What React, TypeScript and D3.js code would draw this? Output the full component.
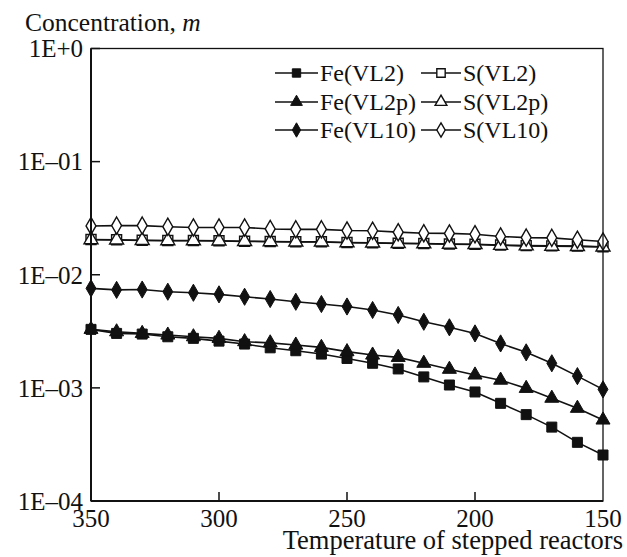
import React, { useEffect, useRef } from "react";
import * as d3 from "d3";

const temps = [350, 340, 330, 320, 310, 300, 290, 280, 270, 260, 250, 240, 230, 220, 210, 200, 190, 180, 170, 160, 150];

const feVL2 = [0.00329, 0.00303, 0.00299, 0.00283, 0.00274, 0.00259, 0.00244, 0.00226, 0.00213, 0.00199, 0.00182, 0.00165, 0.00147, 0.00125, 0.00106, 0.00092, 0.00073, 0.00058, 0.00045, 0.00033, 0.000255];
const feVL2p = [0.00329, 0.00313, 0.00303, 0.00293, 0.00283, 0.00274, 0.00256, 0.0025, 0.00239, 0.00228, 0.00209, 0.00195, 0.00186, 0.00165, 0.00146, 0.0013, 0.00117, 0.00099, 0.00081, 0.00066, 0.00052];
const feVL10 = [0.00758, 0.00735, 0.0074, 0.00708, 0.00693, 0.00671, 0.00639, 0.0061, 0.00577, 0.00551, 0.00524, 0.00488, 0.00441, 0.00384, 0.00343, 0.00303, 0.00247, 0.00206, 0.00165, 0.00127, 0.00097];
const sVL2 = [0.0205, 0.0204, 0.0202, 0.0201, 0.0201, 0.02, 0.0198, 0.0197, 0.0196, 0.0196, 0.0193, 0.0192, 0.019, 0.0189, 0.0187, 0.0186, 0.0183, 0.0181, 0.018, 0.0179, 0.0177];
const sVL2p = [0.0204, 0.0203, 0.0201, 0.02, 0.02, 0.0199, 0.0197, 0.0196, 0.0195, 0.0195, 0.0192, 0.0191, 0.0189, 0.0188, 0.0186, 0.0185, 0.0182, 0.018, 0.0179, 0.0178, 0.0176];
const sVL10 = [0.027, 0.0272, 0.0272, 0.0266, 0.0262, 0.0262, 0.0262, 0.0254, 0.0252, 0.0252, 0.0246, 0.0245, 0.0238, 0.0233, 0.0232, 0.0228, 0.0218, 0.0213, 0.0212, 0.0204, 0.0197];

const yTickValues = [1, 0.1, 0.01, 0.001, 0.0001];
const yTickLabels = ["1E+0", "1E\u201301", "1E\u201302", "1E\u201303", "1E\u201304"];
const xTickValues = [350, 300, 250, 200, 150];

const seriesNames = ["Fe(VL2)", "S(VL2)", "Fe(VL2p)", "S(VL2p)", "Fe(VL10)", "S(VL10)"];
const seriesData = [feVL2, sVL2, feVL2p, sVL2p, feVL10, sVL10];
const seriesShapes = ["square", "square", "triangle", "triangle", "diamond", "diamond"];
const seriesFilled = [true, false, true, false, true, false];

const FONT = "Liberation Serif, DejaVu Serif, serif";

export default function App() {
  const ref = useRef<SVGSVGElement | null>(null);

  useEffect(() => {
    const svg = d3.select(ref.current);
    svg.selectAll("*").remove();

    const left = 91, right = 603, top = 48.5, bottom = 501;
    const x = d3.scaleLinear().domain([350, 150]).range([left, right]);
    const y = d3.scaleLog().domain([1e-4, 1]).range([bottom, top]);

    const markerPath = (shape: string, size: number) => {
      const sym =
        shape === "square" ? d3.symbolSquare : shape === "triangle" ? d3.symbolTriangle : d3.symbolDiamond;
      return d3.symbol().type(sym).size(size)() as string;
    };
    const sizeFor = (shape: string) => (shape === "square" ? 100 : 85);

    const order = [1, 3, 5, 0, 2, 4];
    const line = d3
      .line<number>()
      .x((_, i) => x(temps[i]))
      .y((d) => y(d));

    order.forEach((si) => {
      const data = seriesData[si];
      const g = svg.append("g");
      g.append("path")
        .attr("d", line(data) as string)
        .attr("fill", "none")
        .attr("stroke", "#111")
        .attr("stroke-width", 1.6);
      g.selectAll("path.m")
        .data(data)
        .enter()
        .append("path")
        .attr("class", "m")
        .attr("d", markerPath(seriesShapes[si], sizeFor(seriesShapes[si])))
        .attr("transform", (d, i) => `translate(${x(temps[i])},${y(d)})`)
        .attr("fill", seriesFilled[si] ? "#111" : "#fff")
        .attr("stroke", "#111")
        .attr("stroke-width", seriesFilled[si] ? 1 : 1.4);
    });

    svg.append("rect")
      .attr("x", left)
      .attr("y", top)
      .attr("width", right - left)
      .attr("height", bottom - top)
      .attr("fill", "none")
      .attr("stroke", "#111")
      .attr("stroke-width", 1.3);
    svg.append("line").attr("x1", left).attr("x2", left).attr("y1", top).attr("y2", bottom)
      .attr("stroke", "#111").attr("stroke-width", 2);
    svg.append("line").attr("x1", left).attr("x2", right).attr("y1", bottom).attr("y2", bottom)
      .attr("stroke", "#111").attr("stroke-width", 2);

    yTickValues.forEach((v, i) => {
      svg.append("line")
        .attr("x1", left).attr("x2", left + 9)
        .attr("y1", y(v)).attr("y2", y(v))
        .attr("stroke", "#111").attr("stroke-width", 1.5);
      svg.append("text")
        .attr("x", 83)
        .attr("y", y(v))
        .attr("dy", "0.35em")
        .attr("text-anchor", "end")
        .style("font-family", FONT)
        .attr("font-size", 25)
        .attr("fill", "#111")
        .text(yTickLabels[i]);
    });

    xTickValues.forEach((v) => {
      if (v !== 350 && v !== 150) {
        svg.append("line")
          .attr("x1", x(v)).attr("x2", x(v))
          .attr("y1", bottom).attr("y2", bottom - 9)
          .attr("stroke", "#111").attr("stroke-width", 1.5);
      }
      svg.append("text")
        .attr("x", x(v))
        .attr("y", 527)
        .attr("text-anchor", "middle")
        .style("font-family", FONT)
        .attr("font-size", 25)
        .attr("fill", "#111")
        .text(String(v));
    });

    const yt = svg.append("text")
      .attr("x", 25)
      .attr("y", 31)
      .style("font-family", FONT)
      .attr("font-size", 25.5)
      .attr("fill", "#111");
    yt.append("tspan").text("Concentration, ");
    yt.append("tspan").attr("font-style", "italic").text("m");

    svg.append("text")
      .attr("x", 623)
      .attr("y", 549)
      .attr("text-anchor", "end")
      .style("font-family", FONT)
      .attr("font-size", 26.5)
      .attr("fill", "#111")
      .text("Temperature of stepped reactors");

    const rows = [73, 102, 130];
    const cols = [
      { l1: 275, l2: 318, tx: 320 },
      { l1: 421, l2: 461, tx: 463 },
    ];
    seriesNames.forEach((name, si) => {
      const r = Math.floor(si / 2);
      const c = si % 2;
      const cy = rows[r];
      const col = cols[c];
      svg.append("line")
        .attr("x1", col.l1).attr("x2", col.l2)
        .attr("y1", cy).attr("y2", cy)
        .attr("stroke", "#111").attr("stroke-width", 1.6);
      svg.append("path")
        .attr("d", markerPath(seriesShapes[si], seriesShapes[si] === "square" ? 70 : 60))
        .attr("transform", `translate(${(col.l1 + col.l2) / 2},${cy})`)
        .attr("fill", seriesFilled[si] ? "#111" : "#fff")
        .attr("stroke", "#111")
        .attr("stroke-width", seriesFilled[si] ? 1 : 1.4);
      svg.append("text")
        .attr("x", col.tx)
        .attr("y", cy)
        .attr("dy", "0.35em")
        .style("font-family", FONT)
        .attr("font-size", 24)
        .attr("fill", "#111")
        .text(name);
    });
  }, []);

  return (
    <svg
      ref={ref}
      width={627}
      height={557}
      style={{ position: "absolute", left: 0, top: 0, background: "#fff" }}
    />
  );
}
